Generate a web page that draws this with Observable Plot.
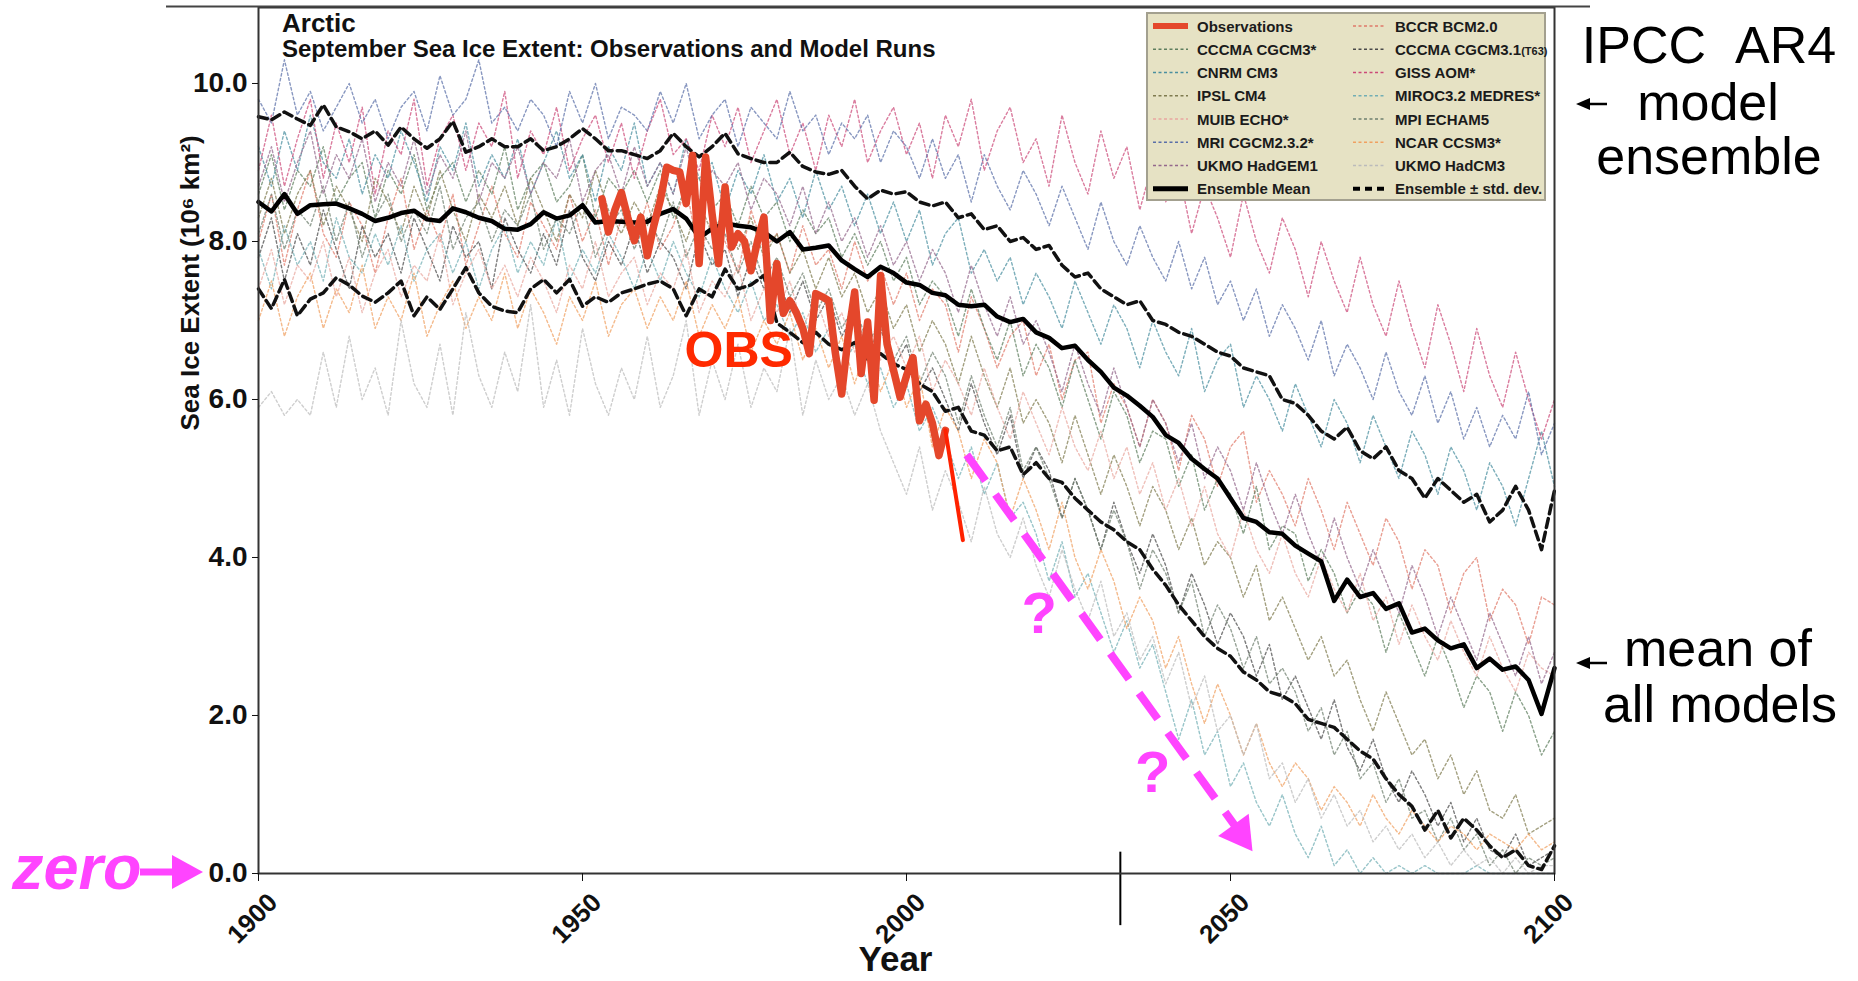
<!DOCTYPE html>
<html><head><meta charset="utf-8">
<script src="https://cdn.jsdelivr.net/npm/d3@7"></script>
<script src="https://cdn.jsdelivr.net/npm/@observablehq/plot@0.6"></script>
<style>
html,body{margin:0;padding:0;background:#fff;}
#wrap{position:relative;width:1858px;height:981px;overflow:hidden;font-family:"Liberation Sans",Arial,Helvetica,sans-serif;}
#wrap svg{display:block}
#overlay{position:absolute;left:0;top:0;pointer-events:none}
</style></head><body>
<div id="wrap"><div id="chart"></div></div>
<script>
// ---------- data ----------
const years2 = d3.range(1900, 2101, 2);   // model / ensemble years (every 2nd year)
const xTicks = [1900, 1950, 2000, 2050, 2100];
const yTicks = [0, 2, 4, 6, 8, 10];

const modelNames = ["BCCR BCM2.0","CCCMA CGCM3*","CCCMA CGCM3.1(T63)","CNRM CM3","GISS AOM*","IPSL CM4",
  "MIROC3.2 MEDRES*","MUIB ECHO*","MPI ECHAM5","MRI CGCM2.3.2*","NCAR CCSM3*","UKMO HadGEM1","UKMO HadCM3"];
const modelColors = ["#e07a6a","#5e7e5e","#4a4a4a","#4a8f9f","#cc4a78","#7f7b4f",
  "#72aeb4","#e9a7a0","#6f806f","#5a6fa8","#f0a060","#94688c","#bbbbbb"];

const bccr = [8.0,8.6,7.7,8.4,8.9,8.1,7.8,8.5,8.2,7.6, 8.3,8.8,7.9,8.4,8.0,8.6,7.7,8.2,8.7,8.1,
  7.8,8.5,8.2,7.9,8.6,8.0,8.4,7.7,8.3,8.0, 8.5,7.9,8.2,8.7,7.8,8.3,8.0,7.6,8.4,7.9,
  8.1,7.6,8.2,7.7,7.9,7.4,8.0,7.5,7.7,7.2,
  7.6,7.0,7.4,7.2,6.6,7.3,6.9,6.4,6.8,7.0, 6.3,6.7,6.0,6.5,6.6,5.7,6.2,5.9,5.4,6.0,
  5.7,5.1,5.8,5.5,4.9,5.4,5.6,4.7,5.1,4.8, 4.4,5.0,4.6,4.1,4.7,4.3,3.9,4.5,4.2,3.6,
  4.1,3.9,3.3,3.8,4.0,3.2,3.6,3.4,2.9,3.5, 3.4];
const cccma = [8.6,9.1,8.4,8.9,8.7,9.2,8.5,8.8,9.0,8.3, 8.9,8.6,9.1,8.4,8.8,9.0,8.5,8.9,8.6,9.2,
  8.4,8.8,9.0,8.5,8.7,9.1,8.3,8.8,8.6,8.9, 8.5,8.9,8.3,8.7,8.8,8.4,8.6,8.2,8.7,8.3,
  8.5,8.0,8.4,8.1,8.3,7.8,8.1,7.7,8.0,7.5,
  7.8,7.2,7.5,7.3,6.8,7.4,6.9,6.5,7.0,6.3, 6.7,6.4,5.9,6.5,6.0,5.5,6.1,5.8,5.2,5.6,
  5.5,4.9,5.3,4.6,5.0,4.8,4.3,4.9,4.1,4.4, 4.3,3.7,4.1,3.8,3.3,3.6,3.4,2.8,3.3,2.9,
  2.5,3.0,2.6,2.1,2.5,2.3,1.8,2.3,2.0,1.5, 1.8];
const cccmaT63 = [7.8,8.3,7.5,8.1,7.7,8.4,7.9,7.4,8.2,7.8, 8.1,7.6,8.3,7.9,7.5,8.2,7.8,8.0,7.4,8.3,
  7.9,7.6,8.1,7.7,8.4,7.8,7.5,8.0,7.7,8.2, 7.6,8.0,7.8,7.4,8.1,7.7,7.9,7.3,7.8,7.4,
  7.6,7.1,7.5,7.0,7.3,6.8,7.1,6.6,6.9,6.4,
  6.7,6.1,6.4,6.0,5.6,6.2,5.7,5.3,5.8,5.0, 5.4,5.1,4.5,5.0,4.6,4.1,4.7,4.2,3.8,4.3,
  3.9,3.3,3.8,3.4,2.9,3.3,3.0,2.5,2.9,2.2, 2.5,2.1,1.7,2.2,1.6,1.3,1.7,1.2,0.9,1.3,
  1.0,0.6,0.9,0.4,0.7,0.3,0.2,0.5,0.1,0.2, 0.3];
const cnrm = [9.2,8.7,9.4,8.9,9.6,9.0,8.8,9.3,8.6,9.1, 8.8,9.4,9.0,8.5,9.2,8.9,9.5,8.7,9.1,8.8,
  9.3,8.6,9.0,9.4,8.8,9.1,8.5,9.2,8.9,9.5, 8.7,9.0,8.6,9.3,8.8,9.0,8.4,8.9,8.6,9.1,
  8.5,8.8,8.3,8.9,8.4,8.7,8.2,8.6,8.1,8.5,
  8.0,8.4,7.7,8.1,8.3,7.6,7.9,7.5,7.8,7.2, 7.6,7.3,6.9,7.5,7.1,6.7,7.2,6.9,6.4,7.0,
  6.6,6.3,6.9,6.1,6.5,6.7,5.9,6.3,6.0,5.6, 6.2,5.8,5.4,6.0,5.7,5.2,5.8,5.4,5.0,5.6,
  5.3,4.8,5.4,5.1,4.6,5.2,4.9,4.4,5.0,5.6, 4.9];
const giss = [8.9,9.6,8.7,9.3,9.8,8.8,9.5,9.0,9.7,8.6, 9.4,9.1,9.8,8.7,9.3,9.6,8.9,9.5,9.2,9.9,
  8.8,9.4,9.1,9.7,8.9,9.3,9.6,9.0,9.5,8.8, 9.4,9.8,9.1,9.3,8.9,9.6,9.2,9.7,9.0,9.4,
  9.8,9.1,9.5,8.9,9.6,9.2,9.8,9.0,9.4,9.7,
  9.1,9.5,8.8,9.6,9.2,9.8,8.9,9.4,9.7,9.0, 9.3,8.7,9.6,9.0,8.6,9.4,8.8,9.2,8.4,9.0,
  8.5,8.9,8.1,8.7,8.3,7.8,8.6,8.0,7.6,8.3, 7.9,7.3,8.0,7.5,7.1,7.8,7.2,6.8,7.5,6.9,
  6.4,7.2,6.7,6.1,6.9,6.3,5.9,6.6,6.0,5.5, 6.0];
const ipsl = [8.3,8.8,8.1,8.6,8.9,8.2,8.7,8.4,8.0,8.8, 8.5,8.1,8.7,8.3,8.9,8.4,8.0,8.6,8.3,8.7,
  8.2,8.8,8.4,8.0,8.6,8.3,8.9,8.4,8.1,8.5, 8.2,8.7,8.4,8.0,8.5,8.1,8.4,7.9,8.3,7.8,
  8.1,7.6,7.9,7.4,7.8,7.3,7.6,7.1,7.4,6.9,
  7.2,6.6,7.0,6.7,6.2,6.8,6.3,5.9,6.4,5.7, 6.0,5.7,5.2,5.8,5.3,4.8,5.3,4.9,4.4,4.9,
  4.6,4.1,4.5,3.9,4.2,4.0,3.5,3.9,3.2,3.5, 3.1,2.7,3.0,2.5,2.7,2.2,1.8,2.3,1.9,1.5,
  1.7,1.2,1.5,1.0,1.3,0.8,0.7,1.0,0.5,0.6, 0.7];
const miroc = [7.9,7.4,8.2,7.7,8.0,7.5,8.3,7.8,7.6,8.1, 7.7,8.2,7.5,7.9,8.1,7.6,8.0,7.4,7.9,8.2,
  7.6,8.0,7.7,8.3,7.5,7.9,7.6,8.1,7.8,7.4, 7.9,7.5,8.0,7.6,7.3,7.8,7.4,7.1,7.5,7.0,
  7.2,6.8,7.1,6.6,6.9,6.4,6.7,6.2,6.4,5.9,
  6.2,5.6,5.9,5.5,5.0,5.4,4.8,5.2,4.5,4.7, 4.3,3.7,4.2,3.5,3.8,3.3,2.8,3.2,2.6,2.9,
  2.3,1.7,2.2,1.5,1.8,1.1,1.4,0.9,0.6,1.0, 0.5,0.2,0.6,0.1,0.3,0.0,0.2,0.0,0.1,0.0,
  0.1,0.0,0.0,0.0,0.1,0.0,0.0,0.0,0.0,0.0, 0.0];
const muib = [7.4,7.9,7.2,7.7,7.5,8.0,7.3,7.8,7.1,7.6, 7.9,7.3,7.7,7.5,8.1,7.2,7.6,7.9,7.4,7.7,
  7.3,7.8,7.5,7.1,7.7,7.4,8.0,7.3,7.6,7.8, 7.2,7.6,7.4,7.9,7.1,7.5,7.3,7.7,7.0,7.4,
  7.1,7.5,6.9,7.3,6.8,7.1,6.6,7.0,6.5,6.8,
  6.4,6.8,6.1,6.5,6.2,5.8,6.4,5.9,5.5,6.1, 5.7,5.3,5.9,5.4,5.1,5.6,5.0,5.4,4.8,5.2,
  4.6,5.0,4.4,4.9,4.3,4.0,4.6,4.1,3.8,4.3, 3.8,3.5,4.0,3.6,3.3,3.8,3.2,3.5,2.9,3.4,
  3.0,2.7,3.2,2.8,2.5,3.0,2.6,2.3,2.8,2.6, 2.5];
const mpi = [8.1,8.6,7.9,8.4,8.2,8.7,8.0,8.5,7.8,8.3, 8.6,8.0,8.4,8.1,8.7,7.9,8.3,8.5,8.0,8.4,
  8.2,8.6,7.9,8.3,8.1,8.5,7.8,8.2,8.4,7.9, 8.3,8.0,8.5,7.8,8.2,7.9,8.1,7.6,8.0,7.5,
  7.8,7.3,7.6,7.1,7.4,6.9,7.2,6.7,7.0,6.5,
  6.8,6.2,6.6,6.3,5.7,6.3,5.8,5.4,5.9,5.1, 5.4,5.0,4.5,5.0,4.6,4.1,4.6,4.2,3.6,4.1,
  3.8,3.3,3.7,3.0,3.4,3.1,2.6,3.0,2.4,2.6, 2.3,1.8,2.1,1.5,1.8,1.2,1.4,0.9,1.2,0.7,
  0.8,0.4,0.7,0.3,0.5,0.1,0.3,0.0,0.2,0.1, 0.2];
const mri = [9.8,9.5,10.3,9.6,9.9,9.4,9.7,10.0,9.5,9.8, 9.3,9.7,9.9,9.4,10.1,9.6,9.8,10.3,9.5,9.7,
  9.4,9.8,9.6,9.2,9.9,9.5,10.0,9.3,9.7,9.6, 9.4,9.9,9.5,10.0,9.3,9.6,9.8,9.2,9.7,9.5,
  9.3,9.9,9.4,9.6,9.1,9.5,9.3,9.6,9.0,9.4,
  9.2,8.8,9.3,8.8,9.1,8.5,9.1,8.7,8.4,8.9, 8.6,8.2,8.7,8.3,7.9,8.5,8.0,7.7,8.2,7.8,
  7.5,8.0,7.4,7.8,7.2,7.5,7.0,7.4,6.8,7.2, 6.9,6.5,7.0,6.3,6.7,6.4,6.0,6.6,6.1,5.8,
  6.3,5.7,6.1,5.5,5.9,5.4,5.8,5.5,6.1,5.3, 5.7];
const ncar = [7.0,7.5,6.8,7.3,7.6,6.9,7.4,7.1,7.7,6.9, 7.3,7.0,7.6,6.8,7.2,7.5,6.9,7.3,7.0,7.6,
  6.9,7.4,7.1,6.7,7.3,7.0,7.5,6.8,7.2,7.4, 6.9,7.3,7.0,7.5,6.8,7.2,6.9,7.3,6.6,7.0,
  6.7,7.1,6.5,6.9,6.4,6.8,6.2,6.7,6.1,6.5,
  5.9,6.3,5.4,5.9,5.6,5.0,5.5,5.2,4.5,5.0, 4.6,4.1,4.7,4.0,3.6,4.1,3.7,3.1,3.5,3.2,
  2.6,3.0,2.4,1.9,2.4,2.0,1.5,1.9,1.4,1.1, 1.4,1.2,0.8,1.1,0.9,0.6,1.0,0.7,0.5,0.8,
  0.6,0.4,0.6,0.5,0.3,0.5,0.4,0.3,0.5,0.3, 0.4];
const hadgem = [8.7,9.2,8.5,9.0,9.4,8.6,9.1,8.8,9.3,8.5, 9.0,8.7,9.3,8.6,9.1,8.8,9.4,8.5,9.0,8.8,
  9.2,8.6,9.0,8.8,9.3,8.5,8.9,9.1,8.6,9.2, 8.7,9.0,8.6,9.2,8.5,8.9,8.7,9.0,8.4,8.8,
  8.6,8.2,8.7,8.1,8.5,8.0,8.3,7.8,8.2,7.7,
  8.0,7.5,7.9,7.6,7.1,7.7,7.2,6.8,7.3,6.7, 7.0,6.6,6.1,6.7,6.2,5.8,6.4,5.9,5.4,6.0,
  5.7,5.2,5.7,5.0,5.4,5.1,4.6,5.2,4.7,4.3, 4.8,4.3,3.9,4.5,4.0,3.6,4.1,3.7,3.3,3.9,
  3.5,3.0,3.5,3.1,2.7,3.3,2.9,2.5,3.0,2.4, 2.8];
const hadcm3 = [5.9,6.1,5.8,6.0,5.8,6.6,5.9,6.8,6.0,6.4, 5.8,7.0,6.2,5.9,6.7,5.8,7.1,6.3,5.9,6.6,
  6.1,7.2,5.9,6.5,5.8,6.9,6.2,5.8,6.4,6.0, 6.8,5.9,6.3,7.0,5.8,6.5,6.0,6.7,5.9,6.4,
  6.1,6.9,5.8,6.5,6.0,6.3,5.8,6.2,5.6,5.2,
  4.8,5.4,4.6,5.1,4.7,4.2,4.9,4.3,4.0,4.5, 3.9,3.5,4.1,3.6,3.2,3.7,3.0,3.3,2.7,3.0,
  2.4,2.8,2.1,2.5,1.8,2.0,1.5,1.9,1.2,1.4, 0.9,1.2,0.7,1.0,0.6,0.8,0.4,0.6,0.3,0.5,
  0.2,0.4,0.1,0.3,0.1,0.2,0.0,0.2,0.0,0.1, 0.1];
const modelValues = [bccr,cccma,cccmaT63,cnrm,giss,ipsl,miroc,muib,mpi,mri,ncar,hadgem,hadcm3];

const ensembleMean = [8.50,8.38,8.60,8.35,8.46,8.47,8.48,8.42,8.35,8.26, 8.30,8.36,8.39,8.28,8.26,8.42,8.37,8.30,8.26,8.16,
  8.15,8.22,8.37,8.29,8.33,8.46,8.24,8.26,8.25,8.24, 8.25,8.35,8.41,8.29,8.05,8.16,8.23,8.20,8.18,8.12,
  8.00,8.12,7.90,7.92,7.95,7.76,7.65,7.55,7.68,7.60, 7.48,7.45,7.35,7.32,7.20,7.18,7.20,7.05,6.98,7.02,
  6.85,6.78,6.65,6.68,6.50,6.35,6.15,6.05,5.92,5.78, 5.55,5.45,5.25,5.12,5.00,4.75,4.50,4.45,4.32,4.30,
  4.15,4.05,3.95,3.45,3.72,3.50,3.55,3.35,3.42,3.05, 3.10,2.95,2.85,2.90,2.60,2.72,2.58,2.62,2.45,2.02, 2.60];
const ensembleUpper = [9.58,9.54,9.64,9.55,9.47,9.73,9.45,9.39,9.30,9.40, 9.22,9.45,9.30,9.18,9.30,9.52,9.13,9.20,9.30,9.20,
  9.20,9.30,9.15,9.20,9.30,9.43,9.30,9.15,9.15,9.10, 9.05,9.15,9.37,9.20,9.07,9.20,9.37,9.11,9.05,9.00,
  9.00,9.13,8.95,8.88,8.85,8.90,8.70,8.54,8.65,8.60, 8.63,8.50,8.45,8.50,8.30,8.35,8.15,8.20,8.00,8.05,
  7.90,7.95,7.70,7.55,7.60,7.40,7.30,7.20,7.25,7.00, 6.95,6.85,6.80,6.70,6.60,6.55,6.40,6.35,6.30,6.00,
  5.95,5.80,5.60,5.50,5.65,5.35,5.25,5.40,5.10,5.00, 4.75,5.00,4.85,4.70,4.80,4.45,4.60,4.90,4.60,4.10, 4.85];
const ensembleLower = [7.40,7.15,7.52,7.06,7.27,7.35,7.54,7.45,7.31,7.23, 7.35,7.50,7.06,7.30,7.14,7.40,7.67,7.35,7.18,7.12,
  7.10,7.40,7.52,7.35,7.52,7.18,7.30,7.23,7.35,7.40, 7.46,7.50,7.40,7.06,7.40,7.30,7.65,7.40,7.45,7.57,
  6.97,6.85,6.72,6.85,6.70,6.63,6.72,6.51,6.58,6.45, 6.38,6.20,6.10,5.85,5.90,5.60,5.55,5.35,5.40,5.05,
  5.20,5.00,4.95,4.75,4.60,4.45,4.35,4.20,4.10,3.85, 3.65,3.40,3.20,3.00,2.85,2.75,2.55,2.45,2.30,2.25,
  2.15,1.95,1.90,1.85,1.70,1.55,1.45,1.20,1.00,0.85, 0.55,0.80,0.45,0.70,0.55,0.35,0.20,0.30,0.10,0.05, 0.35];

const obsYears = d3.range(1953, 2007);
const obsValues = [8.54,8.12,8.40,8.62,8.30,8.01,8.31,7.82,8.20,8.52, 8.94,8.90,8.88,8.48,9.09,7.72,9.07,8.35,7.72,8.69,
  7.93,8.10,8.00,7.63,8.00,8.31,7.00,7.72,7.09,7.25, 7.10,6.90,6.58,7.34,7.30,7.25,6.60,6.07,6.80,7.36,
  6.33,6.98,5.99,7.57,6.70,6.37,6.03,6.30,6.53,5.73, 5.94,5.70,5.29,5.61];
const obsRecentYears = [2006, 2008.7];
const obsRecentValues = [5.61, 4.22];

// annotations (data coordinates)
const guessArrow = [{x1: 2009.3, y1: 5.30, x2: 2050.9, y2: 0.58}];
const guessHead = [{x: 2051.43, y: 0.504}];
const questionMarks = [{x: 2020.5, y: 3.28}, {x: 2038.0, y: 1.27}];
const obsLabel = [{x: 1974.1, y: 6.62, text: "OBS"}];
const markerYear = [2033];

// ---------- build rows ----------
const modelRows = modelNames.flatMap((name, k) => modelValues[k].map((v, i) => ({year: years2[i], value: v, model: name})));
const bandRows = [["upper", ensembleUpper], ["lower", ensembleLower]].flatMap(([b, arr]) => arr.map((v, i) => ({year: years2[i], value: v, band: b})));
const meanRows = ensembleMean.map((v, i) => ({year: years2[i], value: v}));
const obsRows = obsValues.map((v, i) => ({year: obsYears[i], value: v}));
const obsRecentRows = obsRecentValues.map((v, i) => ({year: obsRecentYears[i], value: v}));

const MAGENTA = "#ff44ff";
const FONT = "Liberation Sans, Arial, Helvetica, sans-serif";

const chart = Plot.plot({
  width: 1858, height: 981,
  marginLeft: 258, marginRight: 304, marginTop: 7, marginBottom: 108,
  x: {domain: [1900, 2100]},
  y: {domain: [0, 10.962]},
  color: {domain: modelNames, range: modelColors},
  style: {fontFamily: FONT, background: "transparent", overflow: "visible", color: "#111"},
  marks: [
    Plot.line(modelRows, {x: "year", y: "value", z: "model", stroke: "model", strokeWidth: 1.4, strokeDasharray: "2.5,2.5", strokeOpacity: 0.72}),
    Plot.line(bandRows, {x: "year", y: "value", z: "band", stroke: "#111", strokeWidth: 3.5, strokeDasharray: "9,5"}),
    Plot.line(meanRows, {x: "year", y: "value", stroke: "#000", strokeWidth: 4.5, strokeLinejoin: "round"}),
    Plot.line(obsRows, {x: "year", y: "value", stroke: "#e4472b", strokeWidth: 7.5, strokeLinejoin: "round"}),
    Plot.line(obsRecentRows, {x: "year", y: "value", stroke: "#ff2200", strokeWidth: 4}),
    Plot.link(guessArrow, {x1: "x1", y1: "y1", x2: "x2", y2: "y2", stroke: MAGENTA, strokeWidth: 8, strokeDasharray: "32,17"}),
    Plot.dot(guessHead, {x: "x", y: "y", symbol: "triangle", r: 14, fill: MAGENTA, stroke: null, rotate: 144.2}),
    Plot.text(questionMarks, {x: "x", y: "y", text: () => "?", fontSize: 58, fontWeight: "bold", fill: MAGENTA}),
    Plot.text(obsLabel, {x: "x", y: "y", text: "text", fontSize: 50, fontWeight: "bold", fill: "#ff2a00"}),
    Plot.ruleX(markerYear, {x: d => d, y1: 0.27, y2: -0.66, stroke: "#000", strokeWidth: 2}),
    Plot.frame({stroke: "#333", strokeWidth: 2}),
    Plot.axisY({ticks: yTicks, tickFormat: d3.format(".1f"), tickSize: 6, tickPadding: 5, fontSize: 28, fontWeight: "bold", label: null}),
    Plot.axisX({ticks: xTicks, tickSize: 8, tickFormat: () => "", label: null}),
    Plot.text(xTicks, {x: d => d, text: d => String(d), frameAnchor: "bottom", dy: 51, rotate: -45, fontSize: 26, fontWeight: "bold"}),
    Plot.text(["Year"], {text: d => d, frameAnchor: "bottom", dy: 97, dx: -11, fontSize: 35, fontWeight: "bold"}),
    Plot.text(["Sea Ice Extent (10\u2076 km\u00b2)"], {text: d => d, frameAnchor: "left", dx: -68, dy: -10, rotate: -90, fontSize: 26, fontWeight: "bold"})
  ]
});
document.getElementById("chart").appendChild(chart);

// ---------- overlay: titles, legend, side notes ----------
const ov = d3.select("#wrap").append("svg").attr("id", "overlay")
  .attr("width", 1858).attr("height", 981).style("font-family", FONT);

ov.append("line").attr("x1", 166).attr("x2", 1590).attr("y1", 6.5).attr("y2", 6.5).attr("stroke", "#444").attr("stroke-width", 2);

ov.append("text").attr("x", 282).attr("y", 32).attr("font-size", 26).attr("font-weight", "bold").attr("fill", "#111").text("Arctic");
ov.append("text").attr("x", 282).attr("y", 57).attr("font-size", 24).attr("font-weight", "bold").attr("fill", "#111")
  .text("September Sea Ice Extent: Observations and Model Runs");

// legend
const legendLeft = [
  {label: "Observations", stroke: "#e4472b", width: 6, dash: null},
  {model: "CCCMA CGCM3*"}, {model: "CNRM CM3"}, {model: "IPSL CM4"}, {model: "MUIB ECHO*"},
  {model: "MRI CGCM2.3.2*"}, {model: "UKMO HadGEM1"},
  {label: "Ensemble Mean", stroke: "#000", width: 5, dash: null}
];
const legendRight = [
  {model: "BCCR BCM2.0"}, {model: "CCCMA CGCM3.1(T63)"}, {model: "GISS AOM*"}, {model: "MIROC3.2 MEDRES*"},
  {model: "MPI ECHAM5"}, {model: "NCAR CCSM3*"}, {model: "UKMO HadCM3"},
  {label: "Ensemble \u00b1 std. dev.", stroke: "#000", width: 4, dash: "7,5"}
];
const lg = ov.append("g");
lg.append("rect").attr("x", 1147).attr("y", 13).attr("width", 398).attr("height", 187)
  .attr("fill", "#e6e2c4").attr("stroke", "#a3a08f").attr("stroke-width", 2);
function legendColumn(items, sx1, sx2, tx) {
  items.forEach((it, i) => {
    const cy = 26 + i * 23.25;
    const k = it.model ? modelNames.indexOf(it.model) : -1;
    lg.append("line").attr("x1", sx1).attr("x2", sx2).attr("y1", cy).attr("y2", cy)
      .attr("stroke", k >= 0 ? modelColors[k] : it.stroke)
      .attr("stroke-width", k >= 0 ? 1.6 : it.width)
      .attr("stroke-dasharray", k >= 0 ? "3,2.5" : it.dash);
    const t = lg.append("text").attr("x", tx).attr("y", cy + 5.5).attr("font-size", 15)
      .attr("font-weight", "bold").attr("fill", "#1b1b1b");
    const label = it.model || it.label;
    const m = label.match(/^(.*)(\(T63\))$/);
    if (m) { t.append("tspan").text(m[1]); t.append("tspan").attr("font-size", 11).text(m[2]); }
    else t.text(label);
  });
}
legendColumn(legendLeft, 1153, 1188, 1197);
legendColumn(legendRight, 1353, 1386, 1395);

// right-hand notes
const notes = [
  {text: "IPCC\u00a0\u00a0AR4", x: 1709, y: 63},
  {text: "model", x: 1708, y: 120},
  {text: "ensemble", x: 1709, y: 174},
  {text: "mean of", x: 1718, y: 666},
  {text: "all models", x: 1720, y: 722}
];
notes.forEach(n => ov.append("text").attr("x", n.x).attr("y", n.y).attr("text-anchor", "middle")
  .attr("font-size", 52).attr("fill", "#000").text(n.text));
function leftArrow(xTip, y) {
  ov.append("line").attr("x1", xTip + 10).attr("x2", xTip + 31).attr("y1", y).attr("y2", y).attr("stroke", "#000").attr("stroke-width", 2.5);
  ov.append("polygon").attr("points", `${xTip},${y} ${xTip + 14},${y - 6} ${xTip + 14},${y + 6}`).attr("fill", "#000");
}
leftArrow(1576, 104);
leftArrow(1576, 663);

// zero note
ov.append("text").attr("x", 12).attr("y", 889).attr("font-size", 63).attr("font-weight", "bold")
  .attr("font-style", "italic").attr("fill", MAGENTA).text("zero");
ov.append("line").attr("x1", 140).attr("x2", 178).attr("y1", 872).attr("y2", 872).attr("stroke", MAGENTA).attr("stroke-width", 7);
ov.append("polygon").attr("points", "203,872 172,855 172,889").attr("fill", MAGENTA);
</script></body></html>
